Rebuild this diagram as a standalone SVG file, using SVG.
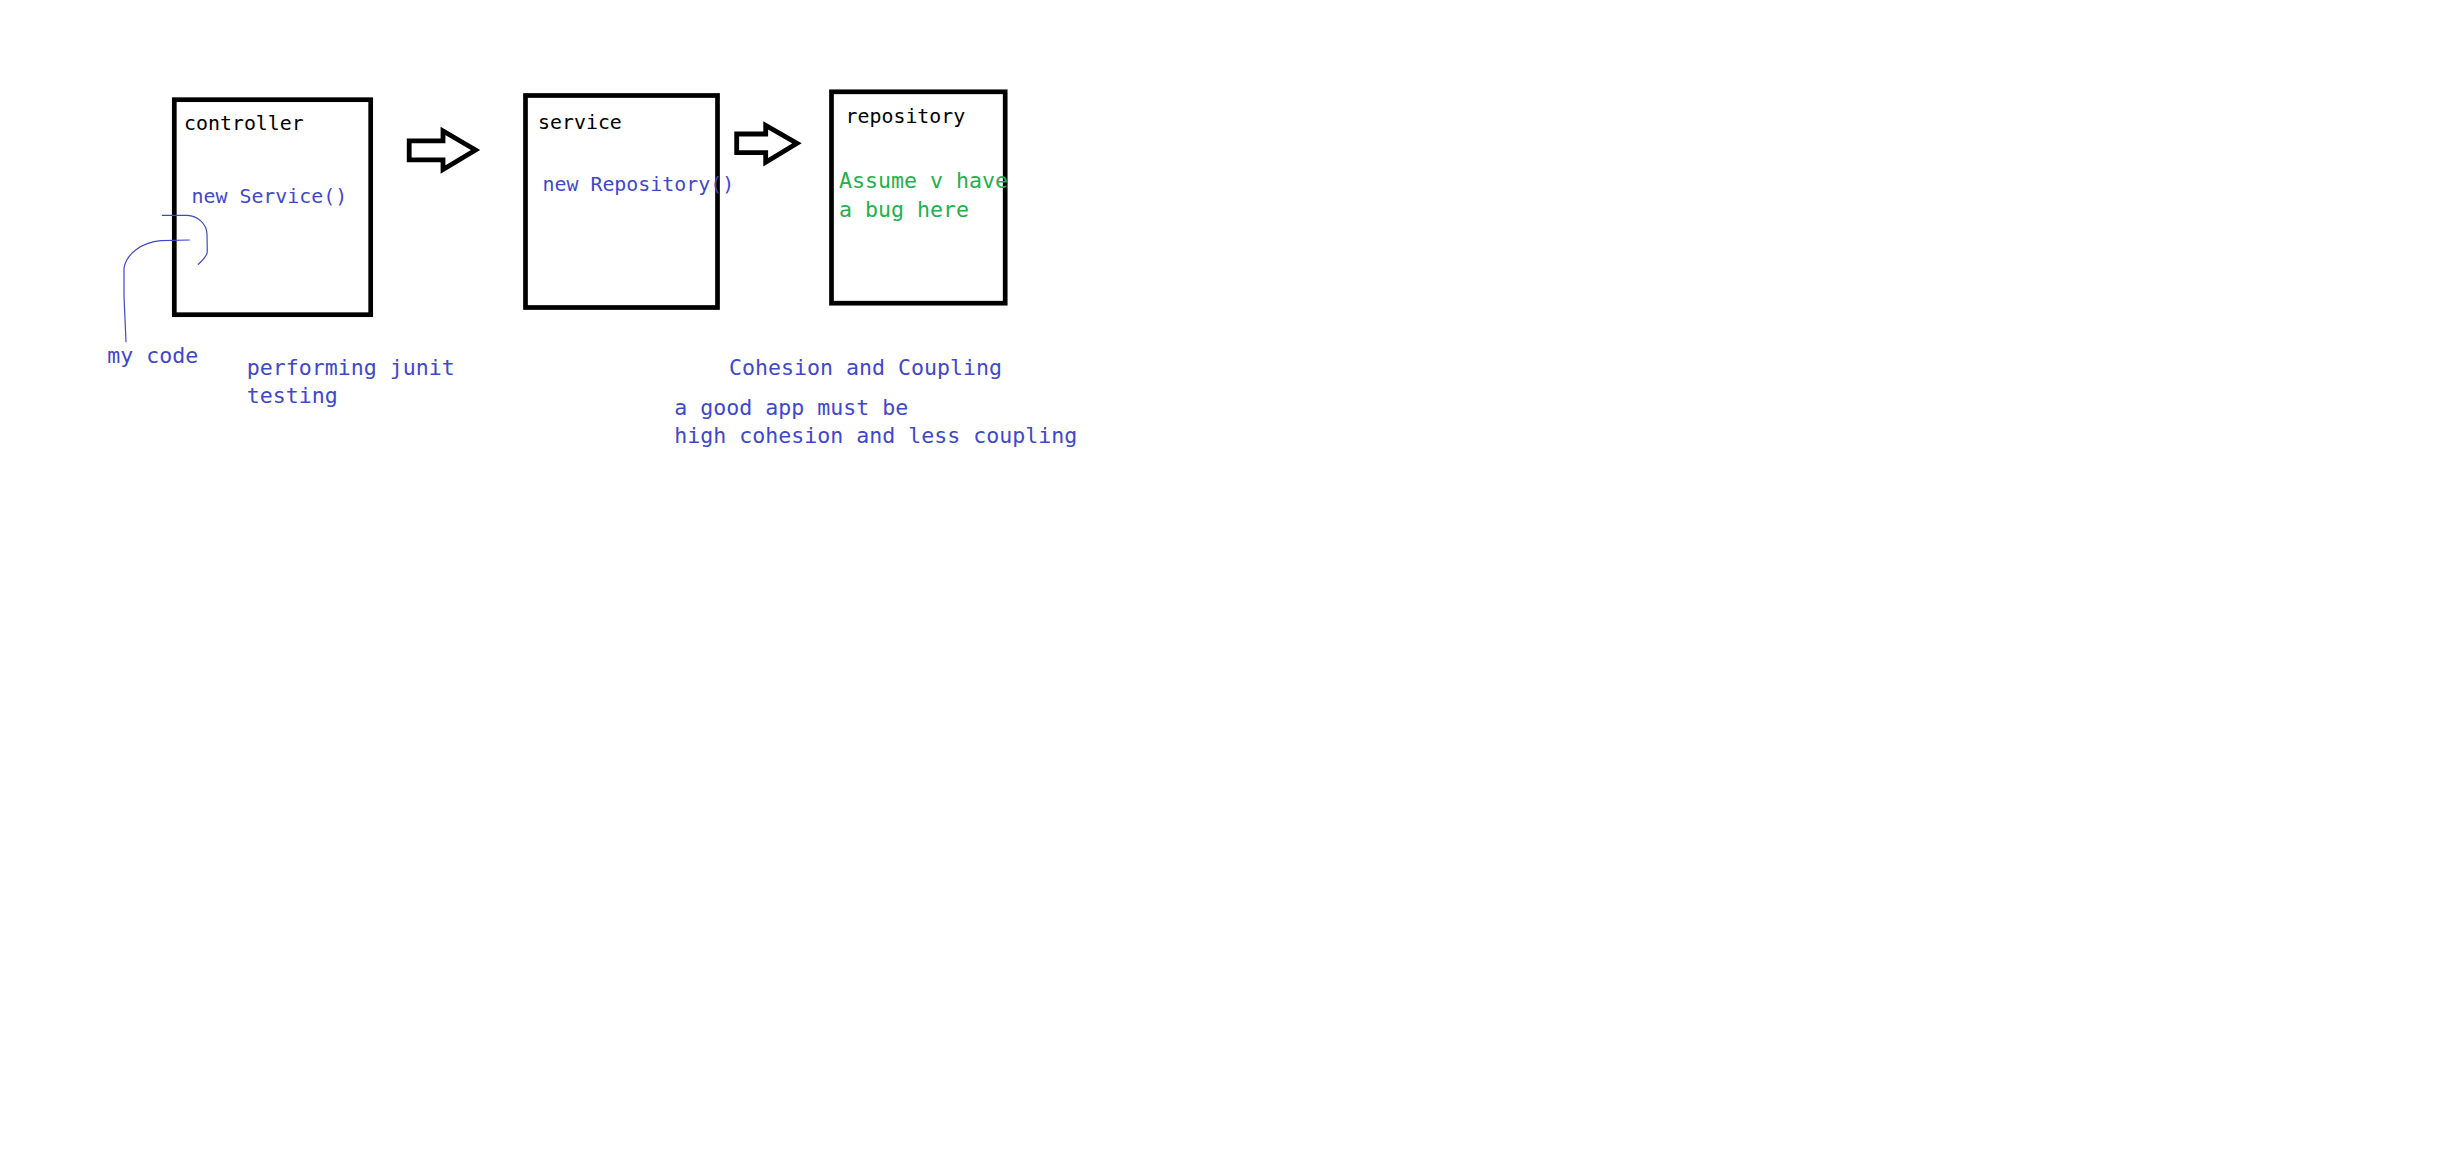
<svg xmlns="http://www.w3.org/2000/svg" width="2440" height="1176" viewBox="0 0 2440 1176">
<style>
.box{fill:none;stroke:#000;stroke-width:4.7}
.arr{fill:none;stroke:#000;stroke-width:4.8;stroke-linejoin:miter}
.t{font-family:"DejaVu Sans Mono","Liberation Mono",monospace}
.s{font-size:19.9px}
.m{font-size:21.6px}
.k{fill:#000}
.b{fill:#3f48cc}
.g{fill:#22b14c}
.pen{fill:none;stroke:#3f48cc;stroke-width:1.2;stroke-linecap:round;stroke-linejoin:round}
</style>
<rect x="0" y="0" width="2440" height="1176" fill="#fff"/>
<g id="controller">
<rect class="box" x="174.3" y="99.7" width="196.4" height="215"/>
<text class="t s k" x="184" y="130">controller</text>
<text class="t s b" x="191.5" y="203">new Service()</text>
</g>
<g id="service">
<rect class="box" x="525.5" y="95.5" width="192" height="212"/>
<text class="t s k" x="538" y="129">service</text>
<text class="t s b" x="542.5" y="191">new Repository()</text>
</g>
<g id="repository">
<rect class="box" x="831.5" y="91.8" width="173.7" height="211.4"/>
<text class="t s k" x="845.5" y="122.5">repository</text>
<text class="t m g" x="839" y="188.3">Assume v have</text>
<text class="t m g" x="839" y="216.7">a bug here</text>
</g>
<g id="connectors">
<polygon class="arr" points="409.2,140.8 443,140.8 443,131 475.5,150 443,169.5 443,159.8 409.2,159.8"/>
<polygon class="arr" points="736.7,134 765.7,134 765.7,125.3 797,143.3 765.7,162.3 765.7,152.7 736.7,152.7"/>
</g>
<g id="my-code-mark">
<path class="pen" d="M162.3,215.3 L187.3,215.3 C197,215.6 206.8,223.5 207,234 L207.3,251.7 C207,256 202.5,260.5 198.3,264.3"/>
<path class="pen" d="M189.3,240 L161,240.7 C141,242.5 126.5,254 124,268 L124,296.7 L126,341.7"/>
</g>
<g id="notes">
<text class="t m b" x="107.3" y="362.7">my code</text>
<text class="t m b" x="246.7" y="375">performing junit</text>
<text class="t m b" x="246.7" y="402.7">testing</text>
<text class="t m b" x="729" y="375">Cohesion and Coupling</text>
<text class="t m b" x="674.3" y="415">a good app must be</text>
<text class="t m b" x="674.3" y="443.3">high cohesion and less coupling</text>
</g>
</svg>
